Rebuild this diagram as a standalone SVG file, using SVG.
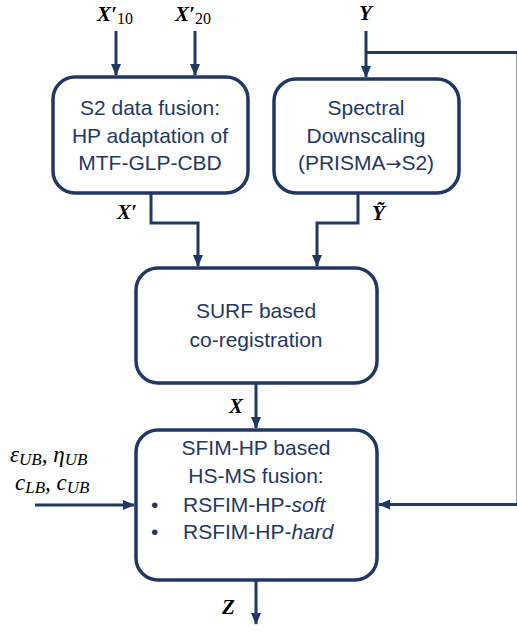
<svg xmlns="http://www.w3.org/2000/svg" width="517" height="632" viewBox="0 0 517 632">
<defs>
<marker id="ah" markerUnits="userSpaceOnUse" markerWidth="12" markerHeight="12" viewBox="0 0 12 12" refX="11" refY="6" orient="auto">
<path d="M0,1 L12,6 L0,11 Z" fill="#1F3864"/>
</marker>
<style>
.box{fill:#fff;stroke:#1F3864;stroke-width:3.5}
.c{fill:none;stroke:#1F3864;stroke-width:3}
.t{font-family:"Liberation Sans",Arial,sans-serif;font-size:21px;fill:#1F3864;text-anchor:middle}
.tl{font-family:"Liberation Sans",Arial,sans-serif;font-size:21px;fill:#1F3864}
.m{font-family:"Liberation Serif","Times New Roman",serif;font-size:21px;font-weight:bold;font-style:italic;fill:#000}
.mi{font-family:"Liberation Serif","Times New Roman",serif;font-size:23px;font-style:italic;fill:#000}
.sub{font-size:16px;font-weight:normal;font-style:normal}
.subi{font-size:17px;font-style:italic}
.arr{font-family:"DejaVu Sans",sans-serif;font-size:19px}
</style>
</defs>
<rect width="517" height="632" fill="#fff"/>
<g id="connectors">
<path class="c" d="M116,31 V75" marker-end="url(#ah)"/>
<path class="c" d="M195,31 V75" marker-end="url(#ah)"/>
<path class="c" d="M366,31 V77" marker-end="url(#ah)"/>
<path class="c" d="M366,52.5 H518 V504.5 H379" marker-end="url(#ah)"/>
<path class="c" d="M151,194 V223 H198 V266" marker-end="url(#ah)"/>
<path class="c" d="M358,194 V223 H317 V266" marker-end="url(#ah)"/>
<path class="c" d="M256,384 V428" marker-end="url(#ah)"/>
<path class="c" d="M35,505 H134" marker-end="url(#ah)"/>
<path class="c" d="M256,581 V624" marker-end="url(#ah)"/>
</g>
<g id="s2fusion">
<rect class="box" x="53" y="77" width="195" height="116" rx="22"/>
<text class="t" x="150" y="115">S2 data fusion:</text>
<text class="t" x="150" y="143">HP adaptation of</text>
<text class="t" x="150" y="170">MTF-GLP-CBD</text>
</g>
<g id="downscaling">
<rect class="box" x="274" y="79" width="185" height="114" rx="22"/>
<text class="t" x="366" y="115">Spectral</text>
<text class="t" x="366" y="143">Downscaling</text>
<text class="t" x="366" y="170">(PRISMA<tspan class="arr">→</tspan>S2)</text>
</g>
<g id="surf">
<rect class="box" x="136" y="268" width="241" height="115" rx="22"/>
<text class="t" x="256" y="318">SURF based</text>
<text class="t" x="256" y="347">co-registration</text>
</g>
<g id="sfim">
<rect class="box" x="136" y="430" width="241" height="150" rx="22"/>
<text class="t" x="256" y="455">SFIM-HP based</text>
<text class="t" x="256" y="483">HS-MS fusion:</text>
<text class="tl" x="151" y="512">•</text>
<text class="tl" x="183" y="512">RSFIM-HP-<tspan font-style="italic">soft</tspan></text>
<text class="tl" x="151" y="539">•</text>
<text class="tl" x="183" y="539">RSFIM-HP-<tspan font-style="italic">hard</tspan></text>
</g>
<g id="labels">
<text class="m" x="97" y="21">X′<tspan class="sub" dy="3">10</tspan></text>
<text class="m" x="175" y="21">X′<tspan class="sub" dy="3">20</tspan></text>
<text class="m" x="359" y="20">Y</text>
<text class="m" x="117" y="219">X′</text>
<text class="m" x="372" y="220">Ỹ</text>
<text class="m" x="229" y="413">X</text>
<text class="m" x="222" y="614">Z</text>
<text class="mi" x="10" y="462">ε<tspan class="subi" dy="3">UB</tspan><tspan dy="-3">, η</tspan><tspan class="subi" dy="3">UB</tspan></text>
<text class="mi" x="15" y="490">c<tspan class="subi" dy="3">LB</tspan><tspan dy="-3">, c</tspan><tspan class="subi" dy="3">UB</tspan></text>
</g>
</svg>
